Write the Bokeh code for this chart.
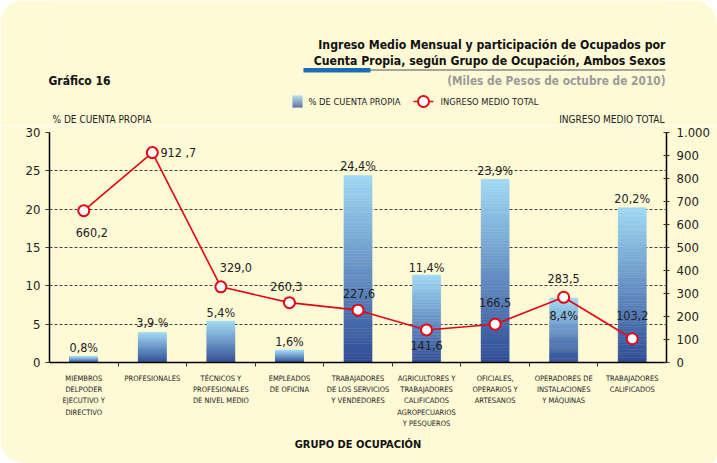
from bokeh.plotting import figure
from bokeh.layouts import column
from bokeh.models import (Range1d, LinearAxis, FixedTicker, ColumnDataSource, LabelSet)
from bokeh.core.properties import value
from bokeh.embed import file_html
from bokeh.resources import INLINE

# ---------------- data ----------------
categories = [
    "MIEMBROS\nDELPODER\nEJECUTIVO Y\nDIRECTIVO",
    "PROFESIONALES",
    "TÉCNICOS Y\nPROFESIONALES\nDE NIVEL MEDIO",
    "EMPLEADOS\nDE OFICINA",
    "TRABAJADORES\nDE LOS SERVICIOS\nY VENDEDORES",
    "AGRICULTORES Y\nTRABAJADORES\nCALIFICADOS\nAGROPECUARIOS\nY PESQUEROS",
    "OFICIALES,\nOPERARIOS Y\nARTESANOS",
    "OPERADORES DE\nINSTALACIONES\nY MÁQUINAS",
    "TRABAJADORES\nCALIFICADOS",
]
pct_cuenta_propia = [0.8, 3.9, 5.4, 1.6, 24.4, 11.4, 23.9, 8.4, 20.2]
pct_labels = ["0,8%", "3,9 %", "5,4%", "1,6%", "24,4%", "11,4%", "23,9%", "8,4%", "20,2%"]
ingreso_medio = [660.2, 912.7, 329.0, 260.3, 227.6, 141.6, 166.5, 283.5, 103.2]
ingreso_labels = ["660,2", "912 ,7", "329,0", "260,3", "227,6", "141,6", "166,5", "283,5", "103,2"]
left_ticks = [0, 5, 10, 15, 20, 25, 30]
right_ticks = [0, 100, 200, 300, 400, 500, 600, 700, 800, 900, 1000]
right_tick_labels = {1000: "1.000"}

title_1 = "Ingreso Medio Mensual y participación de Ocupados por"
title_2 = "Cuenta Propia, según Grupo de Ocupación, Ambos Sexos"
subtitle = "(Miles de Pesos de octubre de 2010)"
chart_no = "Gráfico 16"
legend_bar = "% DE CUENTA PROPIA"
legend_line = "INGRESO MEDIO TOTAL"
y_left_title = "% DE CUENTA PROPIA"
y_right_title = "INGRESO MEDIO TOTAL"
x_title = "GRUPO DE OCUPACIÓN"

# ---------------- styles ----------------
FONT = "DejaVu Sans Condensed"
BG = "#fffad6"
RED = "#e30613"
TXT = "#222222"
DARK = (47, 76, 150)
LIGHT = (160, 217, 245)
pct_label_dy = [9, 10, 9, 9, 10, 8, 9, -17, 9]
ing_label_dx = [8, 26, 15, -3, 1, 0, 0, 0, 0]
ing_label_dy = [-22, 0, 19, 16, 17, -16, 22, 19, 23]
N_SLICES = 60
BAR_W = 0.41
W, H_TOP, H_MAIN = 717, 125, 338
FRAME_L, FRAME_R = 49, 666


def mix(t):
    c = [round(DARK[k] + (LIGHT[k] - DARK[k]) * t) for k in range(3)]
    return "#%02x%02x%02x" % tuple(c)


# ================= header figure (titles, legend) =================
# its frame is aligned with the chart frame below, so the x range spans that frame in page pixels
top = figure(width=W, height=H_TOP, x_range=Range1d(FRAME_L, FRAME_R), y_range=Range1d(H_TOP, 0),
             output_backend="svg", toolbar_location=None, x_axis_location=None, y_axis_location=None,
             min_border_left=FRAME_L, min_border_right=W - FRAME_R, min_border_top=0,
             min_border_bottom=0)
top.background_fill_color = BG
top.border_fill_color = BG
top.outline_line_color = None
top.grid.visible = False
top.styles = {"border-radius": "24px 24px 0 0", "overflow": "hidden"}


def t(x, y, text, size, bold=False, color=TXT, align="left"):
    top.text(x=[x], y=[y], text=[text], text_font=value(FONT), text_font_size=size,
             text_font_style="bold" if bold else "normal", text_color=color,
             text_align=align, text_baseline="middle", level="overlay")


t(665, 44, title_1, "12.2px", True, "#111", "right")
t(665, 60, title_2, "12.2px", True, "#111", "right")
top.segment(x0=[303], y0=[69.5], x1=[665], y1=[69.5], line_color="#8a8a8a", line_width=1.5)
top.quad(left=[303], right=[370], top=[67.5], bottom=[72], fill_color="#1a6db5", line_color=None)
t(665, 80, subtitle, "11.8px", True, "#9a9a9a", "right")
t(48, 80, chart_no, "12px", True, "#111")
# legend
for i in range(12):
    top.quad(left=[292], right=[302], top=[95 + i], bottom=[96 + i],
             fill_color=mix(1 - (i + 0.5) / 12), line_color=None)
t(308, 101, legend_bar, "9.3px")
top.segment(x0=[413], y0=[101], x1=[433], y1=[101], line_color=RED, line_width=1.6)
top.scatter(x=[423], y=[101], marker="circle", size=11, fill_color="white",
            line_color=RED, line_width=2)
t(440, 101, legend_line, "9.3px")
t(52, 119, y_left_title, "10px")
t(664, 119, y_right_title, "10px", align="right")

# ================= main chart =================
n = len(categories)
centers = [i + 0.5 for i in range(n)]          # category slot centres on the x scale

p = figure(width=W, height=H_MAIN, x_range=Range1d(0, n), y_range=Range1d(0, 30),
           output_backend="svg", toolbar_location=None, x_axis_location=None, y_axis_location=None,
           min_border_left=FRAME_L, min_border_right=W - FRAME_R, min_border_top=7,
           min_border_bottom=101)
p.background_fill_color = BG
p.border_fill_color = BG
p.outline_line_color = None
p.styles = {"border-radius": "0 0 8px 24px", "overflow": "hidden"}
p.extra_y_ranges = {"ing": Range1d(0, 1000)}

yl = LinearAxis(ticker=FixedTicker(ticks=left_ticks))
yr = LinearAxis(y_range_name="ing", ticker=FixedTicker(ticks=right_ticks),
                major_label_overrides=right_tick_labels)
for ax in (yl, yr):
    ax.axis_line_width = 1.5
    ax.axis_line_color = "black"
    ax.major_tick_line_color = "#333"
    ax.minor_tick_line_color = None
    ax.major_label_text_font = FONT
    ax.major_label_text_font_size = "13px"
    ax.major_label_text_color = TXT
yl.major_tick_in = 0
yl.major_tick_out = 4
yl.major_label_standoff = 5
yr.major_tick_in = 3
yr.major_tick_out = 3
yr.major_label_standoff = 7
p.add_layout(yl, "left")
p.add_layout(yr, "right")

# bottom axis: labels at slot centres, small ticks at slot boundaries (minor ticks)
xc = LinearAxis(ticker=FixedTicker(ticks=centers, minor_ticks=list(range(1, n))),
                major_label_overrides={c: name for c, name in zip(centers, categories)})
xc.axis_line_width = 1.5
xc.axis_line_color = "black"
xc.major_tick_line_color = None
xc.major_tick_in = 0
xc.major_tick_out = 0
xc.minor_tick_line_color = "#333"
xc.minor_tick_in = 0
xc.minor_tick_out = 4
xc.major_label_standoff = 7
xc.major_label_text_font = FONT
xc.major_label_text_font_size = "7.5px"
xc.major_label_text_color = TXT
xc.major_label_text_line_height = 1.27
xc.axis_label = x_title
xc.axis_label_text_font = FONT
xc.axis_label_text_font_size = "11px"
xc.axis_label_text_font_style = "bold"
xc.axis_label_text_color = "#111"
xc.axis_label_standoff = 7
p.add_layout(xc, "below")

p.ygrid.ticker = FixedTicker(ticks=left_ticks[1:])
p.ygrid.grid_line_color = "#444"
p.ygrid.grid_line_dash = "3 2"
p.ygrid.grid_line_width = 1.2
p.xgrid.grid_line_color = None

# gradient bars
xs, bots, tops, cols = [], [], [], []
for c, v in zip(centers, pct_cuenta_propia):
    for i in range(N_SLICES):
        xs.append(c)
        bots.append(v * i / N_SLICES)
        tops.append(v * (i + 1) / N_SLICES)
        cols.append(mix((i + 0.5) / N_SLICES))
bars = ColumnDataSource(dict(x=xs, bottom=bots, top=tops, color=cols))
p.vbar(x="x", bottom="bottom", top="top", width=BAR_W, source=bars,
       fill_color="color", line_color="color", line_width=0.5)

src = ColumnDataSource(dict(x=centers, y=ingreso_medio, lab=ingreso_labels,
                            dx=ing_label_dx, dy=ing_label_dy,
                            p=pct_cuenta_propia, plab=pct_labels, pdy=pct_label_dy))
p.line("x", "y", source=src, y_range_name="ing", line_color=RED, line_width=1.6)
p.scatter("x", "y", source=src, y_range_name="ing", marker="circle", size=11,
          fill_color="white", line_color=RED, line_width=2)

p.add_layout(LabelSet(x="x", y="p", text="plab", y_offset="pdy", source=src,
                      text_align="center", text_baseline="middle",
                      text_font=value(FONT), text_font_size="12.5px", text_color=TXT))
p.add_layout(LabelSet(x="x", y="y", y_range_name="ing", text="lab", x_offset="dx", y_offset="dy",
                      source=src, text_align="center", text_baseline="middle",
                      text_font=value(FONT), text_font_size="12.5px", text_color=TXT))

layout = column(top, p, spacing=0)
open("out.html", "w").write(file_html(layout, INLINE))
